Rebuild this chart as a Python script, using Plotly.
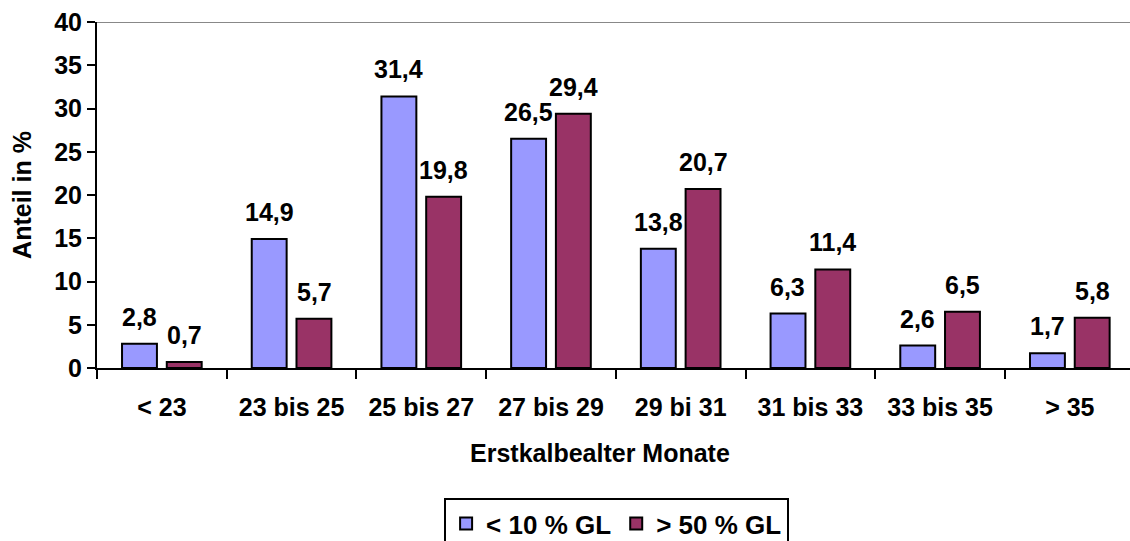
import plotly.graph_objects as go

# Age at first calving (months) and share of cows in %
categories = ["< 23", "23 bis 25", "25 bis 27", "27 bis 29", "29 bi 31",
              "31 bis 33", "33 bis 35", "> 35"]
low_gl = [2.8, 14.9, 31.4, 26.5, 13.8, 6.3, 2.6, 1.7]
high_gl = [0.7, 5.7, 19.8, 29.4, 20.7, 11.4, 6.5, 5.8]
series_names = ["< 10 % GL", "> 50 % GL"]
y_ticks = [0, 5, 10, 15, 20, 25, 30, 35, 40]

FONT = "Arial, 'Liberation Sans', sans-serif"
BLUE = "#9999FF"
PLUM = "#993366"
FS = 25

fig = go.Figure()
fig.add_trace(go.Bar(x=categories, y=low_gl, name=series_names[0],
                     marker=dict(color=BLUE, line=dict(color="black", width=2))))
fig.add_trace(go.Bar(x=categories, y=high_gl, name=series_names[1],
                     marker=dict(color=PLUM, line=dict(color="black", width=2))))


def fmt(v):
    return f"{v:.1f}".replace(".", ",")


annotations = []
for cat, a, b in zip(categories, low_gl, high_gl):
    for val, shift in ((a, -22.5), (b, 22.5)):
        annotations.append(dict(x=cat, y=val, xref="x", yref="y", text=fmt(val),
                                showarrow=False, xshift=shift, yshift=11,
                                yanchor="bottom",
                                font=dict(family=FONT, size=FS, color="black")))

annotations.append(dict(x=0.487, y=-0.246, xref="paper", yref="paper",
                        text="Erstkalbealter Monate", showarrow=False,
                        yanchor="middle", xanchor="center",
                        font=dict(family=FONT, size=FS, color="black")))

fig.update_layout(
    width=1130, height=541,
    margin=dict(l=97, r=0, t=22, b=173, autoexpand=False),
    paper_bgcolor="white", plot_bgcolor="white",
    font=dict(family=FONT, size=FS, color="black", weight="bold"),
    barmode="group", bargap=0.31, bargroupgap=0.22,
    showlegend=True,
    legend=dict(orientation="h", x=0.503, xanchor="center", y=-0.376, yanchor="top",
                bordercolor="black", borderwidth=2,
                font=dict(family=FONT, size=FS + 1, color="black", weight="bold"),
                itemwidth=30, tracegroupgap=0),
    annotations=annotations,
    shapes=[dict(type="line", xref="paper", yref="y", x0=0, x1=1, y0=40, y1=40,
                 line=dict(color="#888888", width=2))],
)

fig.update_xaxes(
    type="category", range=[-0.5, 7.464],
    showline=True, linecolor="black", linewidth=2,
    ticks="outside", tickson="boundaries", ticklen=9, tickwidth=2, tickcolor="black",
    ticklabelstandoff=16,
    showgrid=False, zeroline=False,
    tickfont=dict(family=FONT, size=FS, color="black", weight="bold"),
)
fig.update_yaxes(
    range=[0, 40], tickvals=y_ticks,
    showline=True, linecolor="black", linewidth=2,
    ticks="outside", ticklen=8, tickwidth=2, tickcolor="black",
    showgrid=False, zeroline=False,
    tickfont=dict(family=FONT, size=FS, color="black", weight="bold"),
    title=dict(text="Anteil in %", standoff=15,
               font=dict(family=FONT, size=FS, color="black", weight="bold")),
)

fig.write_html("out.html")
